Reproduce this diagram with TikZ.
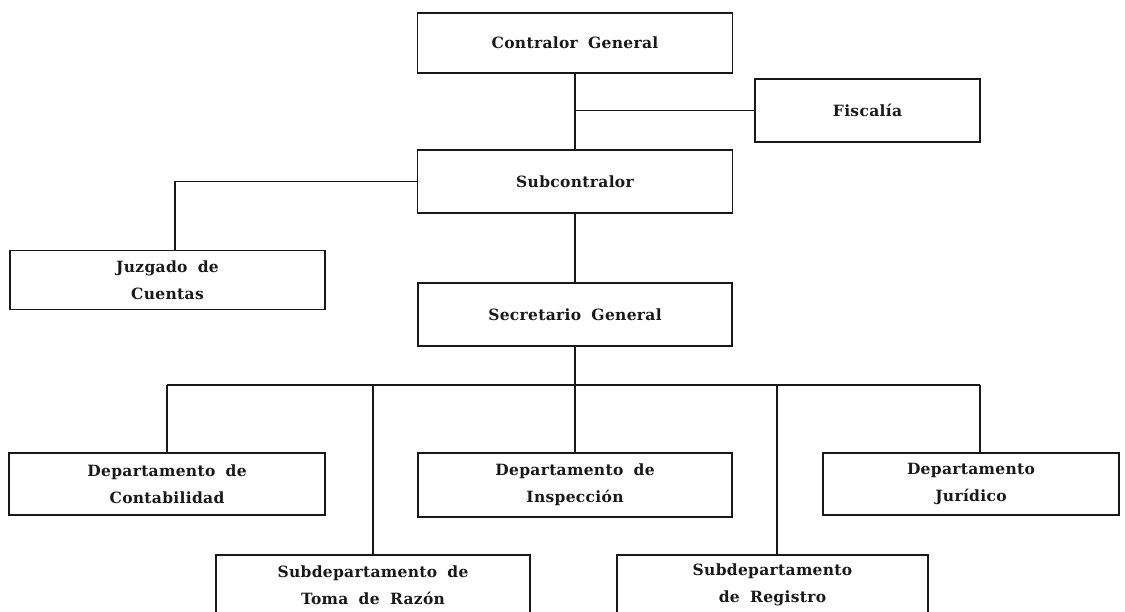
\documentclass[tikz,border=0pt]{standalone}
\usepackage{fontspec}
\setmainfont[LetterSpace=2,WordSpace=1.8,BoldFont={DejaVu Serif Bold}]{DejaVu Serif}
\begin{document}
\begin{tikzpicture}[x=1pt,y=-1pt,
  orgbox/.style={draw=black!90, line width=1.1pt, inner sep=0pt, align=center,
    font=\fontsize{15.5}{27}\selectfont\bfseries, text=black!90},
  boxtext/.style={align=center, font=\fontsize{15.5}{27}\selectfont\bfseries, text=black!90},
  link/.style={draw=black!90, line width=1.1pt}]
\useasboundingbox (0,0) rectangle (1125,612);
\clip (0,0) rectangle (1125,612);
\fill[white] (0,0) rectangle (1125,612);
% nodes
\node[orgbox, minimum width=315pt, minimum height=60pt] (cg) at (575,43) {Contralor General};
\node[orgbox, minimum width=225pt, minimum height=63pt] (fis) at (867.5,110.5) {Fiscalía};
\node[orgbox, minimum width=315pt, minimum height=63pt] (sub) at (575,181.5) {Subcontralor};
\node[orgbox, minimum width=315pt, minimum height=59pt] (juz) at (167.5,280) {Juzgado de\\Cuentas};
\node[orgbox, minimum width=314pt, minimum height=63pt] (sec) at (575,314.5) {Secretario General};
\node[orgbox, minimum width=316pt, minimum height=62pt] (cont) at (167,484) {Departamento de\\Contabilidad};
\node[orgbox, minimum width=314pt, minimum height=64pt] (insp) at (575,485) {Departamento de\\Inspección};
\node[orgbox, minimum width=296pt, minimum height=62pt] (jur) at (971,484) {Departamento\\Jurídico};
\node[orgbox, minimum width=314pt, minimum height=70pt] (toma) at (373,590) {};
\node[orgbox, minimum width=311pt, minimum height=70pt] (reg) at (772.5,590) {};
\node[boxtext] (tomat) at (373,585) {Subdepartamento de\\Toma de Razón};
\node[boxtext] (regt) at (772.5,585) {Subdepartamento\\de Registro};
% connectors
\coordinate (bar) at (575,385);
\draw[link] (cg.south) -- (sub.north);
\draw[link] (cg.south |- fis.west) -- (fis.west);
\draw[link] (sub.west) -| ([xshift=7.5pt]juz.north);
\draw[link] (sub.south) -- (sec.north);
\draw[link] (sec.south) -- (bar);
\draw[link] (cont.north |- bar) -- ([xshift=9pt]jur.north |- bar);
\draw[link] (cont.north |- bar) -- (cont.north);
\draw[link] (toma.north |- bar) -- (toma.north);
\draw[link] (insp.north |- bar) -- (insp.north);
\draw[link] ([xshift=4.5pt]reg.north |- bar) -- ([xshift=4.5pt]reg.north);
\draw[link] ([xshift=9pt]jur.north |- bar) -- ([xshift=9pt]jur.north);
\end{tikzpicture}
\end{document}
